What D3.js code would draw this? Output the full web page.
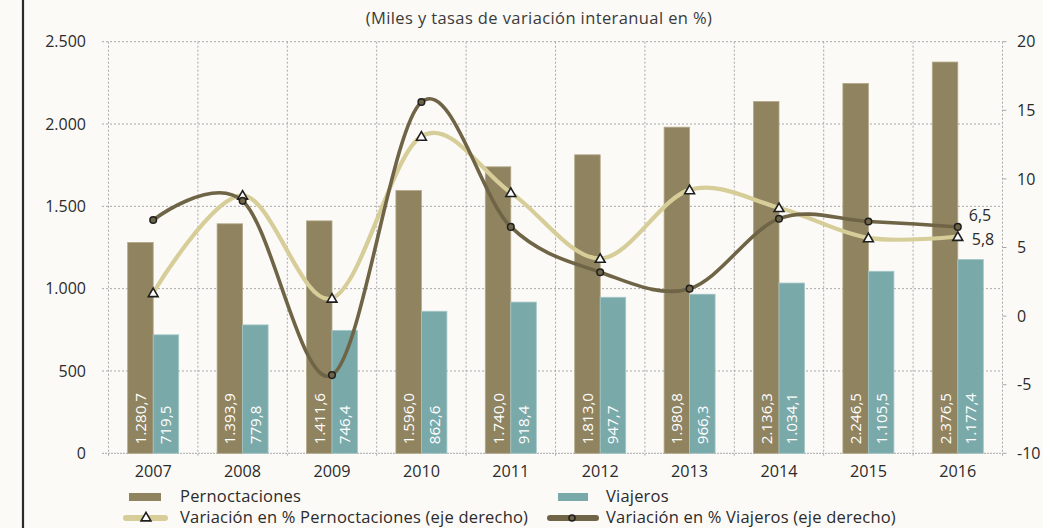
<!DOCTYPE html>
<html>
<head>
<meta charset="utf-8">
<script src="https://cdn.jsdelivr.net/npm/d3@7"></script>
<style>
  html, body { margin: 0; padding: 0; background: #fbfaf7; }
  svg { display: block; font-family: "Open Sans", Lato, sans-serif; }
</style>
</head>
<body>
<svg id="chart" width="1043" height="528"></svg>
<script>
// Annual series
const years = ["2007","2008","2009","2010","2011","2012","2013","2014","2015","2016"];
const pernoctaciones = [1280.7, 1393.9, 1411.6, 1596.0, 1740.0, 1813.0, 1980.8, 2136.3, 2246.5, 2376.5];
const viajeros = [719.5, 779.8, 746.4, 862.6, 918.4, 947.7, 966.3, 1034.1, 1105.5, 1177.4];
const varPernoctaciones = [1.7, 8.8, 1.3, 13.1, 9.0, 4.2, 9.2, 7.9, 5.7, 5.8];
const varViajeros = [7.0, 8.4, -4.3, 15.6, 6.5, 3.2, 2.0, 7.1, 6.9, 6.5];
const leftTicks = [0, 500, 1000, 1500, 2000, 2500];
const rightTicks = [-10, -5, 0, 5, 10, 15, 20];

const C = {
  bar1: "#8f8360", bar2: "#7aa9aa",
  line1: "#d6cd98", line2: "#6f6446",
  text: "#2b2b2b", grid: "#a8a8a8"
};

const svg = d3.select("#chart");
const fmtThousands = d3.formatLocale({ decimal: ",", thousands: ".", grouping: [3], currency: ["", ""] });
const fmtAxis = fmtThousands.format(",.0f");
const fmtBar = fmtThousands.format(",.1f");
const fmtPct = fmtThousands.format(".1f");

const plot = { left: 108.5, right: 1002.5, top: 41.7, bottom: 453.3 };

const x = d3.scaleBand().domain(years).range([plot.left, plot.right]).padding(0);
const yL = d3.scaleLinear().domain([0, 2500]).range([plot.bottom, plot.top]);
const yR = d3.scaleLinear().domain([-10, 20]).range([plot.bottom, plot.top]);
const barW = 25.5;

// Frame line on the left edge
svg.append("line").attr("x1", 23).attr("x2", 23).attr("y1", 0).attr("y2", 528)
  .attr("stroke", "#2a2a2a").attr("stroke-width", 2.2);

// Title
svg.append("text").attr("x", 539).attr("y", 24).attr("text-anchor", "middle")
  .attr("font-size", 16.5).attr("letter-spacing", 0.4).attr("fill", "#3a3a3a")
  .text("(Miles y tasas de variación interanual en %)");

// Horizontal gridlines
svg.append("g").selectAll("line").data(leftTicks).join("line")
  .attr("x1", 102).attr("x2", plot.right)
  .attr("y1", d => yL(d)).attr("y2", d => yL(d))
  .attr("stroke", C.grid).attr("stroke-width", 1)
  .attr("stroke-dasharray", d => d === 0 ? "2,1" : "2,2");

// Vertical gridlines at category boundaries
const bounds = years.map(y => x(y)).concat([plot.right]);
svg.append("g").selectAll("line").data(bounds).join("line")
  .attr("x1", d => d).attr("x2", d => d)
  .attr("y1", plot.top).attr("y2", plot.bottom + 4)
  .attr("stroke", C.grid).attr("stroke-width", 1).attr("stroke-dasharray", "2,2");

// Left axis labels
svg.append("g").selectAll("text").data(leftTicks).join("text")
  .attr("x", 86).attr("y", d => yL(d)).attr("dy", "0.36em")
  .attr("text-anchor", "end").attr("font-size", 16).attr("fill", C.text)
  .text(d => fmtAxis(d));

// Right axis tick marks and labels
svg.append("g").selectAll("line").data(rightTicks).join("line")
  .attr("x1", plot.right).attr("x2", plot.right + 4)
  .attr("y1", d => yR(d)).attr("y2", d => yR(d))
  .attr("stroke", C.grid).attr("stroke-width", 1);
svg.append("g").selectAll("text").data(rightTicks).join("text")
  .attr("x", 1017).attr("y", d => yR(d)).attr("dy", "0.36em")
  .attr("text-anchor", "start").attr("font-size", 16).attr("fill", C.text)
  .text(d => d);

// X axis labels
svg.append("g").selectAll("text").data(years).join("text")
  .attr("x", d => x(d) + x.bandwidth() / 2).attr("y", 477)
  .attr("text-anchor", "middle").attr("font-size", 16.2).attr("fill", C.text)
  .text(d => d);

// Bars
const cx = d => x(d) + x.bandwidth() / 2;
const gBars = svg.append("g");
gBars.selectAll("rect.p").data(years).join("rect").attr("class", "p")
  .attr("x", d => cx(d) - barW).attr("width", barW)
  .attr("y", (d, i) => yL(pernoctaciones[i]))
  .attr("height", (d, i) => yL(0) - yL(pernoctaciones[i]))
  .attr("fill", C.bar1).attr("stroke", "#b2a887").attr("stroke-width", 0.8);
gBars.selectAll("rect.v").data(years).join("rect").attr("class", "v")
  .attr("x", d => cx(d)).attr("width", barW)
  .attr("y", (d, i) => yL(viajeros[i]))
  .attr("height", (d, i) => yL(0) - yL(viajeros[i]))
  .attr("fill", C.bar2).attr("stroke", "#a3c6c6").attr("stroke-width", 0.8);

// Value labels inside the bars
const labelBase = yL(0) - 9;
gBars.selectAll("text.p").data(years).join("text").attr("class", "p")
  .attr("transform", d => `translate(${cx(d) - barW / 2 + 5.5},${labelBase}) rotate(-90)`)
  .attr("font-size", 15.2).attr("fill", "#ffffff").attr("text-anchor", "start")
  .text((d, i) => fmtBar(pernoctaciones[i]));
gBars.selectAll("text.v").data(years).join("text").attr("class", "v")
  .attr("transform", d => `translate(${cx(d) + barW / 2 + 5.5},${labelBase}) rotate(-90)`)
  .attr("font-size", 15.2).attr("fill", "#ffffff").attr("text-anchor", "start")
  .text((d, i) => fmtBar(viajeros[i]));

// Smoothed variation lines (right axis)
const lineGen = d3.line().x(d => cx(d[0])).y(d => yR(d[1])).curve(d3.curveCardinal.tension(0));
const ptsP = years.map((y, i) => [y, varPernoctaciones[i]]);
const ptsV = years.map((y, i) => [y, varViajeros[i]]);

svg.append("path").datum(ptsP).attr("d", lineGen)
  .attr("fill", "none").attr("stroke", C.line1).attr("stroke-width", 4.2).attr("stroke-linecap", "round");
svg.append("path").datum(ptsV).attr("d", lineGen)
  .attr("fill", "none").attr("stroke", C.line2).attr("stroke-width", 3.6).attr("stroke-linecap", "round");

const tri = d3.symbol().type(d3.symbolTriangle).size(42);
svg.append("g").selectAll("path").data(ptsP).join("path")
  .attr("d", tri).attr("transform", d => `translate(${cx(d[0])},${yR(d[1]) + 1})`)
  .attr("fill", "#ffffff").attr("stroke", "#1e1e1e").attr("stroke-width", 1.6);
svg.append("g").selectAll("circle").data(ptsV).join("circle")
  .attr("cx", d => cx(d[0])).attr("cy", d => yR(d[1])).attr("r", 3.3)
  .attr("fill", C.line2).attr("stroke", "#1e1e1e").attr("stroke-width", 1.5);

// End-of-series value labels
const last = years.length - 1;
svg.append("text").attr("x", cx(years[last]) + 11).attr("y", yR(varViajeros[last]) - 6)
  .attr("font-size", 16).attr("fill", C.text).text(fmtPct(varViajeros[last]));
svg.append("text").attr("x", cx(years[last]) + 14).attr("y", yR(varPernoctaciones[last]) + 8)
  .attr("font-size", 16).attr("fill", C.text).text(fmtPct(varPernoctaciones[last]));

// Legend
const lg = svg.append("g").attr("font-size", 16.5).attr("letter-spacing", 0.2).attr("fill", C.text);
lg.append("rect").attr("x", 129).attr("y", 493).attr("width", 32).attr("height", 8).attr("fill", C.bar1);
lg.append("text").attr("x", 180).attr("y", 502).text("Pernoctaciones");
lg.append("rect").attr("x", 558).attr("y", 493).attr("width", 30).attr("height", 8).attr("fill", C.bar2);
lg.append("text").attr("x", 606).attr("y", 502).text("Viajeros");

lg.append("line").attr("x1", 126).attr("x2", 165).attr("y1", 518).attr("y2", 518)
  .attr("stroke", C.line1).attr("stroke-width", 6).attr("stroke-linecap", "round");
lg.append("path").attr("d", tri).attr("transform", "translate(146,518)")
  .attr("fill", "#ffffff").attr("stroke", "#1e1e1e").attr("stroke-width", 1.6);
lg.append("text").attr("x", 180).attr("y", 523).text("Variación en % Pernoctaciones (eje derecho)");

lg.append("line").attr("x1", 550).attr("x2", 596).attr("y1", 518).attr("y2", 518)
  .attr("stroke", C.line2).attr("stroke-width", 6).attr("stroke-linecap", "round");
lg.append("circle").attr("cx", 572).attr("cy", 518).attr("r", 3)
  .attr("fill", C.line2).attr("stroke", "#1e1e1e").attr("stroke-width", 1.5);
lg.append("text").attr("x", 606).attr("y", 523).text("Variación en % Viajeros (eje derecho)");
</script>
</body>
</html>
